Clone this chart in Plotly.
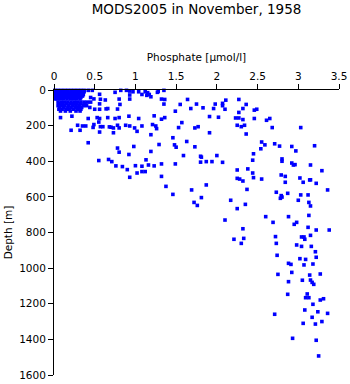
import plotly.graph_objects as go

# Phosphate [umol/l] and depth [m] pairs
phosphate = [
    # dense surface cluster
    0.01,0.05,0.09,0.13,0.17,0.21,0.25,0.29,0.33,0.37,0.42,0.47,
    0.01,0.05,0.09,0.13,0.17,0.21,0.25,0.29,0.33,0.37,
    0.02,0.06,0.10,0.14,0.18,0.22,0.26,0.30,0.34,
    0.01,0.05,0.09,0.13,0.17,0.21,0.25,0.29,0.36,
    0.02,0.06,0.10,0.14,0.18,0.22,0.26,0.31,0.35,
    0.01,0.05,0.09,0.13,0.17,0.21,0.25,0.29,0.33,0.45,
    0.01,0.04,0.08,0.12,0.16,0.20,0.24,0.28,0.32,0.49,
    0.05,0.09,0.13,0.17,0.21,0.25,0.29,0.33,0.37,0.41,0.45,
    0.06,0.10,0.15,0.20,0.24,0.28,0.33,0.38,0.56,
    0.05,0.09,0.13,0.18,0.23,0.27,0.31,0.36,0.40,
    0.07,0.12,0.17,0.21,0.26,0.30,0.34,0.44,
    0.06,0.10,0.15,0.19,0.24,0.29,0.33,0.50,0.56,
    0.08,0.14,0.20,0.27,0.32,
    0.56,0.57,0.63,0.64,
    # upper layer
    0.75,0.80,0.82,0.89,0.93,0.97,0.93,0.93,1.04,1.08,1.12,
    0.66,0.78,0.81,
    0.08,0.22,0.42,0.53,0.56,0.55,0.66,0.75,0.80,0.92,1.04,
    0.29,0.35,0.39,0.49,0.48,0.57,0.60,0.68,0.70,0.73,0.78,0.80,0.88,0.93,0.99,1.08,1.02,
    0.21,0.32,0.56,0.73,
    0.42,0.78,0.80,0.98,0.92,
    0.55,0.67,0.71,0.76,0.84,0.90,1.00,1.08,1.13,1.16,
    1.02,1.08,0.93,
    1.15,1.17,1.19,1.14,1.27,1.28,1.35,
    1.32,1.36,1.35,
    1.64,1.55,1.75,1.68,1.83,1.96,1.98,
    2.07,2.07,2.11,2.10,2.27,2.36,2.32,2.27,
    1.49,1.23,1.36,1.32,1.91,2.02,2.23,2.27,2.32,
    1.57,1.21,1.25,1.26,1.53,1.73,1.77,2.25,2.30,2.34,
    1.19,1.91,2.36,1.46,1.63,1.29,1.48,1.50,1.73,
    1.19,1.59,1.80,1.81,2.00,
    1.80,1.87,1.94,2.07,
    1.23,1.32,1.49,2.38,2.25,
    1.32,2.25,2.28,1.12,
    2.46,2.49,2.46,2.61,2.65,2.68,3.03,
    2.55,2.59,2.71,2.77,2.92,2.97,3.20,2.54,
    2.45,2.44,2.80,2.80,2.92,2.94,2.96,3.15,
    3.29,2.44,2.79,2.84,2.45,2.55,3.02,3.15,
    # intermediate layer
    1.375,1.46,1.69,1.81,1.72,1.76,1.87,2.32,2.37,2.17,2.35,2.25,2.10,2.32,2.21,2.33,2.30,
    2.84,3.06,3.14,3.22,2.73,2.79,2.80,2.78,2.87,3.03,3.12,3.36,3.00,3.13,3.15,
    2.60,2.88,3.13,2.69,2.95,2.98,3.12,3.22,3.38,
    2.72,3.04,3.07,3.08,3.15,2.73,2.98,3.04,3.16,3.21,3.22,2.74,2.88,2.91,3.02,3.09,3.07,3.18,
    # deep layer
    2.75,2.92,3.14,3.27,2.88,3.05,3.15,3.17,3.19,2.87,3.11,3.09,3.13,3.27,3.31,3.18,3.08,3.24,
    3.36,2.71,3.17,3.06,3.21,3.29,2.93,3.22,3.25,
]

depth = [
    2,2,2,2,2,2,2,2,2,2,2,2,
    10,10,10,10,10,10,10,10,10,10,
    18,18,18,18,18,18,18,18,18,
    26,26,26,26,26,26,26,26,26,
    34,34,34,34,34,34,34,34,34,
    42,42,42,42,42,42,42,42,42,42,
    50,50,50,50,50,50,50,50,50,50,
    68,68,68,68,68,68,68,68,68,68,68,
    78,78,78,78,78,78,78,78,78,
    88,88,88,88,88,88,88,88,88,
    98,98,98,98,98,98,98,98,
    108,108,108,108,108,108,108,108,108,
    118,118,118,118,118,
    24,52,56,106,
    13,51,2,2,6,10,28,51,10,25,10,
    104,107,81,
    155,147,160,155,160,180,155,160,155,147,160,
    198,202,202,194,210,206,206,207,209,213,198,213,198,202,213,202,232,
    226,226,236,240,
    296,326,349,317,362,
    396,390,402,426,430,447,425,428,392,421,
    466,458,490,
    15,25,38,30,13,8,2,
    51,53,79,
    53,81,79,104,100,104,79,
    75,88,57,108,53,81,104,126,
    119,145,155,164,149,153,157,157,166,
    183,194,202,217,211,213,206,198,206,198,
    251,240,247,268,289,306,308,321,319,
    345,368,372,377,368,
    405,402,402,406,
    426,415,415,443,449,
    485,496,500,458,
    113,108,160,170,160,211,211,
    292,308,302,315,317,342,313,330,
    358,394,387,400,410,421,419,421,
    453,466,477,485,492,500,494,504,
    541,586,561,604,631,648,533,511,558,619,642,666,730,779,838,833,861,
    518,518,505,524,574,593,601,608,580,589,589,561,619,631,651,
    711,711,704,743,754,743,771,786,786,
    823,825,825,838,816,861,870,878,878,908,939,928,973,979,947,951,982,977,
    1035,1024,1039,1033,1076,1068,1067,1080,1091,1147,1145,1166,1166,1179,1172,1203,1235,1245,
    1254,1259,1276,1310,1314,1300,1394,1405,1493,
]

x_ticks = [0, 0.5, 1, 1.5, 2, 2.5, 3, 3.5]
x_tick_labels = ["0", "0.5", "1", "1.5", "2", "2.5", "3", "3.5"]
y_ticks = [0, 200, 400, 600, 800, 1000, 1200, 1400, 1600]

FONT = "DejaVu Sans"

fig = go.Figure(
    go.Scatter(
        x=phosphate, y=depth, mode="markers",
        marker=dict(symbol="square", size=3.6, color="#0000ff", line=dict(width=0)),
        cliponaxis=False, hoverinfo="x+y",
    )
)

fig.update_layout(
    width=350, height=384,
    margin=dict(l=54, r=11, t=90, b=9, autoexpand=False),
    paper_bgcolor="white", plot_bgcolor="white",
    showlegend=False,
    font=dict(family=FONT, size=10.5, color="black"),
    title=dict(text="MODS2005 in November, 1958", x=0.5, xref="paper", xanchor="center",
               y=1 - 9 / 384, yref="container", yanchor="middle",
               font=dict(family=FONT, size=13.5, color="black")),
)

fig.update_xaxes(
    side="top", range=[0, 3.5], tickvals=x_ticks, ticktext=x_tick_labels,
    ticks="outside", ticklen=5, tickwidth=1, tickcolor="black",
    showline=True, linecolor="black", linewidth=1, showgrid=False, zeroline=False,
    title=dict(text="Phosphate [µmol/l]", font=dict(family=FONT, size=10.5), standoff=6),
    tickfont=dict(family=FONT, size=10.5), automargin=False,
)
fig.update_yaxes(
    range=[1600, 0], tickvals=y_ticks,
    ticks="outside", ticklen=5, tickwidth=1, tickcolor="black",
    showline=True, linecolor="black", linewidth=1, showgrid=False, zeroline=False,
    title=dict(text="Depth [m]", font=dict(family=FONT, size=10.5), standoff=4),
    tickfont=dict(family=FONT, size=10.5), automargin=False,
)

fig.write_html("out.html")
